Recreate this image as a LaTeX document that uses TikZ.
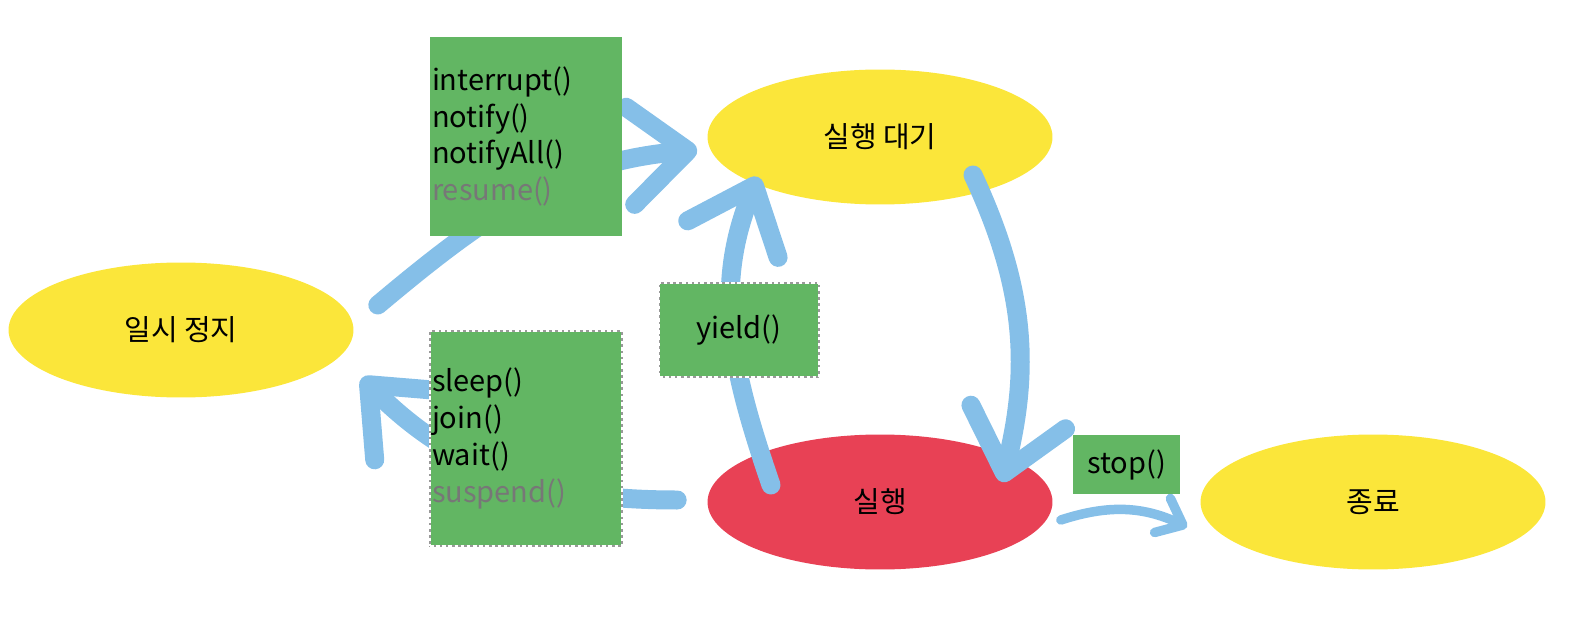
\documentclass[tikz,border=0pt]{standalone}
\usepackage{fontspec}
\setmainfont{Noto Sans CJK KR}
\usepackage{tikz}
\usetikzlibrary{arrows.meta,positioning,shapes.geometric,calc}
\usepackage{xcolor}

\definecolor{stateyellow}{HTML}{FBE63A}
\definecolor{runred}{HTML}{E84155}
\definecolor{boxgreen}{HTML}{62B663}
\definecolor{arrowblue}{HTML}{85BFE8}
\definecolor{oldgray}{HTML}{777777}

\newcommand{\labelfont}{\fontsize{16.5}{21}\selectfont}

\tikzset{
  state/.style={ellipse, fill=stateyellow, minimum width=6.9cm, minimum height=2.7cm, font=\labelfont},
  flow/.style={draw=arrowblue, line width=0.38cm, line cap=round,
    -{Straight Barb[length=1.15cm, width=1.95cm, round]}},
  stopflow/.style={line width=0.19cm, -{Straight Barb[length=0.45cm, width=0.75cm, round]}},
  methods/.style={fill=boxgreen, text width=3.76cm, inner xsep=0.04cm, inner ysep=0pt, align=left, font=\labelfont},
  method/.style={fill=boxgreen, inner sep=0pt, align=center, font=\labelfont},
  dashbox/.style={draw=gray!80, line width=0.6pt, postaction={draw=white, dash pattern=on 2pt off 1.5pt}}
}

\begin{document}
\begin{tikzpicture}[x=0.02cm, y=0.02cm]
  \useasboundingbox (0,0) rectangle (1574,636);

  % States
  \node[state] (pause) at (181,306) {일시 정지};
  \node[state] (ready) at (880,499) {실행 대기};
  \node[state, fill=runred] (run) at (880,134) {실행};
  \node[state] (term) at (1373,134) {종료};

  % Transitions
  \draw[flow] ($(pause.east)+(24,25)$) to[out=40, in=185] ($(ready.west)+(-10,-13)$);
  \draw[flow] ($(run.west)+(-30,2)$) to[out=180, in=-45] ($(pause.east)+(8,-48)$);
  \draw[flow] ($(ready.center)+(93,-38)$) to[out=-65, in=76] ($(run.center)+(122,20)$);
  \draw[flow] ($(run.center)+(-109,17)$) to[out=109, in=248] ($(ready.center)+(-122,-40)$);
  \draw[flow, stopflow] ($(run.east)+(8,-18)$) to[out=18, in=155] ($(term.west)+(-13,-25)$);

  % Method boxes
  \node[methods, minimum height=3.98cm] (wakebox) at (526,499.5)
    {interrupt()\\notify()\\notifyAll()\\\textcolor{oldgray}{resume()}};
  \node[methods, dashbox, minimum height=4.3cm] (sleepbox) at (526,197.5)
    {sleep()\\join()\\wait()\\\textcolor{oldgray}{suspend()}};
  \node[method, dashbox, minimum width=3.2cm, minimum height=1.88cm] (yieldbox) at (739,306) {yield()};
  \node[method, minimum width=2.14cm, minimum height=1.18cm] (stopbox) at (1126.5,171.5) {stop()};
\end{tikzpicture}
\end{document}
